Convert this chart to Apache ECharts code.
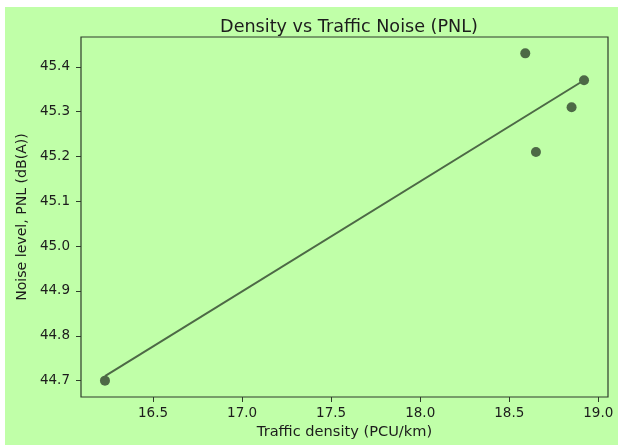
<!DOCTYPE html>
<html>
<head>
<meta charset="utf-8">
<title>Density vs Traffic Noise (PNL)</title>
<script src="https://cdn.jsdelivr.net/npm/echarts@6/dist/echarts.min.js"></script>
<style>
  html, body { margin: 0; padding: 0; background: #ffffff; }
  #chart { position: absolute; left: 5px; top: 7px; width: 613px; height: 438px; background: #c0ffa8; }
</style>
</head>
<body>
<div id="chart"></div>
<script>
// Traffic density vs noise level, with fitted trend line
const density = [16.23, 18.59, 18.65, 18.85, 18.92];
const noise = [44.70, 45.43, 45.21, 45.31, 45.37];

// trend line end points
const trendX = [16.23, 18.92];
const trendY = [44.71, 45.37];

const xTicks = [16.5, 17.0, 17.5, 18.0, 18.5, 19.0];
const yTicks = [44.7, 44.8, 44.9, 45.0, 45.1, 45.2, 45.3, 45.4];

const ink = '#1c1c1c';
const spine = '#2e3d2b';
const markColor = '#4d6946';
const font = 'DejaVu Sans';

const chart = echarts.init(document.getElementById('chart'));

const option = {
  animation: false,
  backgroundColor: 'transparent',
  title: {
    text: 'Density vs Traffic Noise (PNL)',
    left: 339,
    top: 6,
    textAlign: 'center',
    textStyle: { color: ink, fontSize: 17.6, fontWeight: 'normal', fontFamily: font }
  },
  grid: {
    left: 76,
    top: 30,
    right: 10,
    bottom: 48,
    show: true,
    borderColor: spine,
    borderWidth: 1.2,
    backgroundColor: 'transparent'
  },
  xAxis: {
    type: 'value',
    min: 16.0955,
    max: 19.0545,
    name: 'Traffic density (PCU/km)',
    nameLocation: 'middle',
    nameGap: 26,
    nameTextStyle: { color: ink, fontSize: 14.6, fontFamily: font },
    axisLine: { show: false },
    axisTick: {
      show: true,
      length: 5,
      lineStyle: { color: spine, width: 1 },
      customValues: xTicks
    },
    axisLabel: {
      color: ink,
      fontSize: 13.5,
      fontFamily: font,
      margin: 9,
      customValues: xTicks,
      formatter: v => v.toFixed(1)
    },
    splitLine: { show: false }
  },
  yAxis: {
    type: 'value',
    min: 44.6635,
    max: 45.4665,
    name: 'Noise level, PNL (dB(A))',
    nameLocation: 'middle',
    nameGap: 50,
    nameTextStyle: { color: ink, fontSize: 14.1, fontFamily: font },
    axisLine: { show: false },
    axisTick: {
      show: true,
      length: 5,
      lineStyle: { color: spine, width: 1 },
      customValues: yTicks
    },
    axisLabel: {
      color: ink,
      fontSize: 13.5,
      fontFamily: font,
      margin: 11,
      customValues: yTicks,
      formatter: v => v.toFixed(1)
    },
    splitLine: { show: false }
  },
  series: [
    {
      type: 'scatter',
      data: density.map((x, i) => [x, noise[i]]),
      symbolSize: 10,
      itemStyle: { color: markColor, opacity: 1 },
      z: 3
    },
    {
      type: 'line',
      data: trendX.map((x, i) => [x, trendY[i]]),
      showSymbol: false,
      lineStyle: { color: markColor, width: 2 },
      z: 2
    }
  ]
};

chart.setOption(option);
</script>
</body>
</html>
